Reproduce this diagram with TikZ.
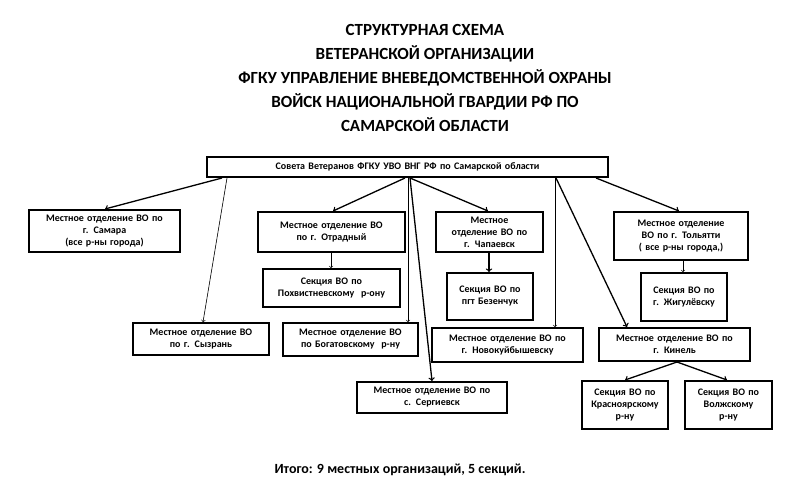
\documentclass[tikz,border=0pt]{standalone}
\usepackage{fontspec}
\setmainfont{Carlito}
\begin{document}
\begin{tikzpicture}[x=1pt,y=-1pt,
 box/.style={draw,line width=2pt,inner sep=1pt,align=center,font=\bfseries\fontsize{10}{12}\selectfont},
 thick arr/.style={->,line width=1.3pt},
 thin arr/.style={->,line width=0.6pt}]
\useasboundingbox (0,0) rectangle (799,500);
\newcommand\bx[6]{\node[box,minimum width=#4-#2,minimum height=#5-#3,text width=#4-#2-4] (#1) at ({(#2+#4)/2},{(#3+#5)/2}) {#6};}
\node[font=\bfseries\fontsize{17}{24}\selectfont,align=center] (title) at (425,78) {СТРУКТУРНАЯ СХЕМА\\ВЕТЕРАНСКОЙ ОРГАНИЗАЦИИ\\ФГКУ УПРАВЛЕНИЕ ВНЕВЕДОМСТВЕННОЙ ОХРАНЫ\\ВОЙСК НАЦИОНАЛЬНОЙ ГВАРДИИ РФ ПО\\САМАРСКОЙ ОБЛАСТИ};
\bx{top}{207}{157}{608}{177}{Совета Ветеранов ФГКУ УВО ВНГ РФ по Самарской области}
\bx{sam}{29}{210}{180}{252}{Местное отделение ВО по\\г. Самара\\(все р-ны города)}
\bx{otr}{258}{212}{405}{252}{Местное отделение ВО\\по г. Отрадный}
\bx{pok}{263}{269}{400}{307}{Секция ВО по\\Похвистневскому\ \ р-ону}
\bx{syz}{133}{323}{269}{355}{Местное отделение ВО\\по г. Сызрань}
\bx{bog}{283}{323}{418}{356}{Местное отделение ВО\\по Богатовскому\ \ р-ну}
\bx{ser}{357}{382}{507}{413}{Местное отделение ВО по\\с. Сергиевск}
\bx{cha}{436}{212}{543}{252}{Местное\\отделение ВО по\\г. Чапаевск}
\bx{bez}{447}{273}{533}{320}{Секция ВО по\\пгт Безенчук}
\bx{nov}{432}{328}{583}{362}{Местное отделение ВО по\\г. Новокуйбышевску}
\bx{tol}{614}{212}{748}{260}{Местное отделение\\ВО по г. Тольятти\\( все р-ны города,)}
\bx{zhi}{641}{273}{727}{321}{Секция ВО по\\г. Жигулёвску}
\bx{kin}{599}{328}{750}{361}{Местное отделение ВО по\\г. Кинель}
\bx{kra}{582}{381}{668}{429}{Секция ВО по\\Красноярскому\\р-ну}
\bx{vol}{685}{381}{772}{429}{Секция ВО по\\Волжскому\\р-ну}
\node[font=\bfseries\fontsize{14}{16}\selectfont] (foot) at (400,470) {Итого: 9 местных организаций, 5 секций.};
\draw[thick arr] (top.south -| 222,0) -- (sam.north -| 105,0);
\draw[thin arr] (top.south -| 227,0) -- (syz.north -| 203,0);
\draw[thick arr] (top.south -| 405,0) -- (otr.north -| 333,0);
\draw[thin arr] (otr.south -| 331,0) -- (pok.north -| 331,0);
\draw[thin arr] (top.south -| 408,0) -- (bog.north -| 408,0);
\draw[thick arr] (top.south -| 410,0) -- (ser.north -| 432,0);
\draw[thick arr] (top.south -| 410,0) -- (cha.north -| 488,0);
\draw[thick arr] (cha.south -| 489,0) -- (bez.north -| 489,0);
\draw[thin arr] (top.south -| 555,0) -- (nov.north -| 555,0);
\draw[thick arr] (top.south -| 556,0) -- (kin.north -| 627,0);
\draw[thick arr] (top.south -| 596,0) -- (tol.north -| 679,0);
\draw[thin arr] (tol.south -| 683,0) -- (zhi.north -| 683,0);
\draw[thick arr] (kin.south -| 677,0) -- (kra.north -| 625,0);
\draw[thick arr] (kin.south -| 677,0) -- (vol.north -| 727,0);
\end{tikzpicture}
\end{document}
